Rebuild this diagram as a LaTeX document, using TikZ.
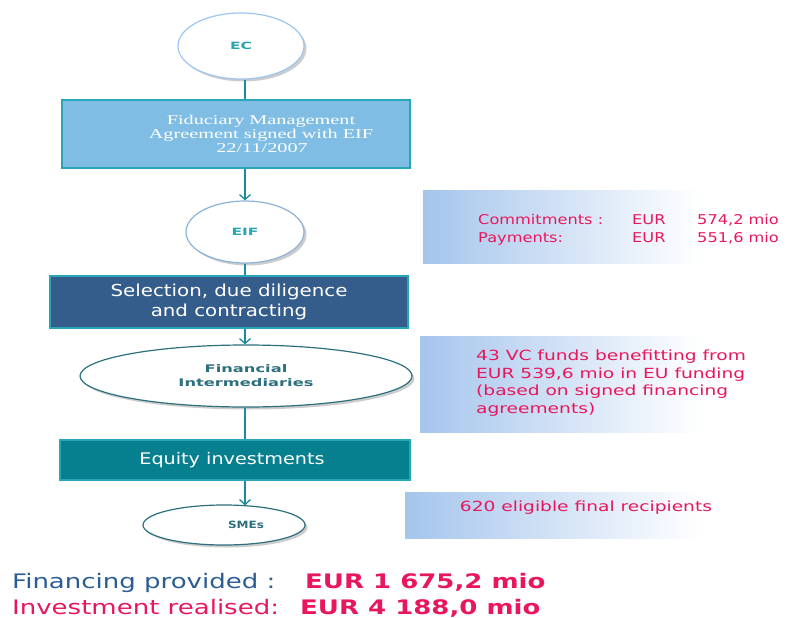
\documentclass[tikz,border=0pt]{standalone}
\usepackage{fontspec}
\setmainfont{DejaVu Sans}
\newfontfamily\wideA[FakeStretch=1.2]{DejaVu Sans}
\newfontfamily\wideB[FakeStretch=1.33]{DejaVu Sans}
\newfontfamily\wideC[FakeStretch=1.3]{DejaVu Sans}
\newfontfamily\wideD[FakeStretch=1.55]{DejaVu Sans}
\newfontfamily\serifwide[FakeStretch=1.5]{Liberation Serif}
\usetikzlibrary{shapes.geometric,arrows.meta,shadows,positioning}
\definecolor{ecborder}{HTML}{9CC6F2}
\definecolor{tealtxt}{HTML}{2AA3B5}
\definecolor{conn}{HTML}{1B8A9C}
\definecolor{fidfill}{HTML}{7FBDE4}
\definecolor{fidborder}{HTML}{26A6B8}
\definecolor{selfill}{HTML}{355D8C}
\definecolor{eqfill}{HTML}{06808F}
\definecolor{darkteal}{HTML}{2C6F7E}
\definecolor{mag}{HTML}{E8175D}
\definecolor{dblue}{HTML}{2B5C93}
\definecolor{panelblue}{HTML}{A5C5EC}
\tikzset{
  x=1pt, y=-1pt,
  oval/.style={ellipse, fill=white, line width=1.2pt, inner sep=0pt,
    drop shadow={opacity=0.4, shadow xshift=2.5pt, shadow yshift=-2.5pt}},
  stepbox/.style={rectangle, draw=fidborder, line width=1.2pt, inner sep=0pt, text=white, align=center},
  conline/.style={draw=conn, line width=1.3pt},
  conarrow/.style={conline, -{Straight Barb[length=5pt,width=11pt,line width=1.3pt]}},
  magA/.style={text=mag, font=\wideA\fontsize{13.5}{15}\selectfont, inner sep=0pt},
  magB/.style={text=mag, font=\wideB\fontsize{14}{17.4}\selectfont, inner sep=0pt},
  bottomtxt/.style={anchor=base west, inner sep=0pt, font=\wideC\fontsize{20}{22}\selectfont},
}
\begin{document}
\begin{tikzpicture}
\useasboundingbox (0,0) rectangle (792,618);
\coordinate (spine) at (245,0);
% ovals and boxes
\node[oval, draw=ecborder, minimum width=126pt, minimum height=66pt, text=tealtxt,
  font=\wideD\bfseries\fontsize{10}{11}\selectfont] (EC) at (241,46) {EC};
\node[stepbox, fill=fidfill, minimum width=348pt, minimum height=68pt,
  font=\serifwide\fontsize{13.5}{14}\selectfont] (fid) at (236,134)
  {\hspace*{50pt}Fiduciary Management\\\hspace*{50pt}Agreement signed with EIF\\\hspace*{52pt}22/11/2007};
\node[oval, draw=ecborder!90!black, minimum width=118pt, minimum height=62pt, text=tealtxt,
  font=\wideD\bfseries\fontsize{10}{11}\selectfont] (EIF) at (245,232) {EIF};
\node[stepbox, fill=selfill, minimum width=358pt, minimum height=52pt,
  font=\wideA\fontsize{16.5}{19.5}\selectfont] (sel) at (229,302) {Selection, due diligence\\and contracting};
\node[oval, draw=darkteal, minimum width=332pt, minimum height=62pt, text=darkteal, align=center,
  font=\wideD\bfseries\fontsize{10.5}{14}\selectfont] (FI) at (246,376) {Financial\\Intermediaries};
\node[stepbox, fill=eqfill, minimum width=350pt, minimum height=40pt,
  font=\wideA\fontsize{16}{17}\selectfont] (eq) at (235,460) {Equity investments\hspace*{6pt}};
\node[oval, draw=darkteal, minimum width=162pt, minimum height=40pt, text=darkteal,
  font=\wideA\bfseries\fontsize{10}{11}\selectfont] (SME) at (224,525) {\hspace*{44pt}SMEs};
% connectors
\draw[conline] (EC.south -| spine) -- (fid.north -| spine);
\draw[conarrow] (fid.south -| spine) -- (EIF.north -| spine);
\draw[conline] (EIF.south -| spine) -- (sel.north -| spine);
\draw[conarrow] (sel.south -| spine) -- (FI.north -| spine);
\draw[conline] (FI.south -| spine) -- (eq.north -| spine);
\draw[conarrow] (eq.south -| spine) -- ([yshift=-1pt]SME.north -| spine);
% panels
\shade[left color=panelblue, right color=white] (423,190) rectangle (700,263);
\shade[left color=panelblue, right color=white] (420,336) rectangle (700,432);
\shade[left color=panelblue, right color=white] (405,492) rectangle (700,538);
\node[magA, anchor=base west] (c1) at (478,224) {Commitments :};
\node[magA, anchor=base west] (c2) at (632,224) {EUR};
\node[magA, anchor=base west] (c3) at (697,224) {574,2 mio};
\node[magA, anchor=base west] (p1) at (478,242) {Payments:};
\node[magA, anchor=base west] (p2) at (632,242) {EUR};
\node[magA, anchor=base west] (p3) at (697,242) {551,6 mio};
\node[magB, anchor=north west, align=left] (vc) at (476,350)
  {43 VC funds benefitting from\\EUR 539,6 mio in EU funding\\(based on signed financing\\agreements)};
\node[magB] (rec) at (586,508) {620 eligible final recipients};
% bottom totals
\node[bottomtxt, text=dblue] (fp) at (12,588) {Financing provided :};
\node[bottomtxt, text=mag, font=\wideC\bfseries\fontsize{20}{22}\selectfont] (fpv) at (305,588) {EUR 1 675,2 mio};
\node[bottomtxt, text=mag] (ir) at (12,614) {Investment realised:};
\node[bottomtxt, text=mag, font=\wideC\bfseries\fontsize{20}{22}\selectfont] (irv) at (300,614) {EUR 4 188,0 mio};
\end{tikzpicture}
\end{document}
